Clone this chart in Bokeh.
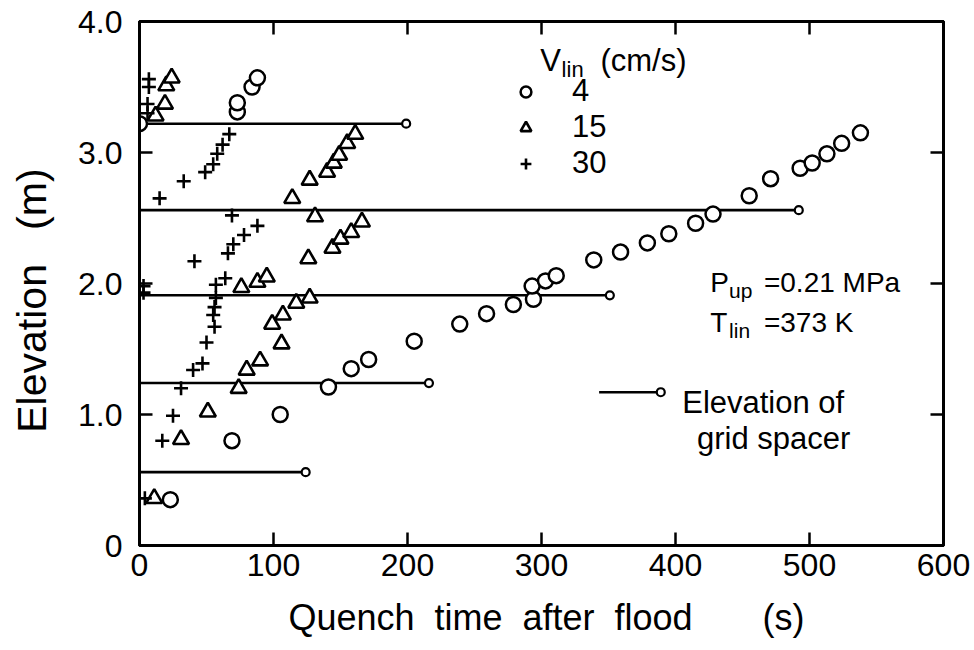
from bokeh.plotting import figure
from bokeh.models import (ColumnDataSource, FixedTicker, LinearAxis, Range1d, Legend,
                          LegendItem, Label, CustomLabelingPolicy)
from bokeh.embed import file_html
from bokeh.resources import INLINE

# ---------------- data ----------------
# V_lin = 4 cm/s  (circles)
t_v4 = [23, 69, 105, 141, 158, 171, 205, 239, 259, 279, 294, 293, 303, 311, 339, 359,
        379, 395, 415, 428, 455, 471, 493, 502, 513, 524, 538, 0, 73, 73, 84, 88]
z_v4 = [0.35, 0.80, 1.00, 1.21, 1.35, 1.42, 1.56, 1.69, 1.77, 1.84, 1.88, 1.98, 2.02,
        2.06, 2.18, 2.24, 2.31, 2.38, 2.46, 2.53, 2.67, 2.80, 2.88, 2.92, 2.99, 3.07,
        3.15, 3.22, 3.31, 3.38, 3.50, 3.57]

# V_lin = 15 cm/s (triangles)
t_v15 = [11, 31, 51, 74, 80, 90, 106, 99, 107, 117, 127, 76, 88, 95, 126, 144, 150,
         158, 166, 131, 114, 127, 140, 145, 149, 155, 161, 12, 19, 20, 24]
z_v15 = [0.36, 0.81, 1.02, 1.20, 1.34, 1.41, 1.54, 1.69, 1.76, 1.85, 1.89, 1.97, 2.01,
         2.05, 2.19, 2.27, 2.34, 2.39, 2.47, 2.51, 2.65, 2.79, 2.85, 2.92, 2.98, 3.07,
         3.14, 3.28, 3.37, 3.51, 3.57]

# V_lin = 30 cm/s (crosses)
t_v30 = [4, 17, 25, 31, 40, 47, 50, 56, 55, 56, 57, 3, 3, 57, 64, 41, 66, 70, 78, 88,
         69, 15, 33, 49, 55, 58, 62, 67, 6, 6, 7, 7]
z_v30 = [0.36, 0.80, 0.99, 1.20, 1.34, 1.39, 1.55, 1.67, 1.76, 1.82, 1.89, 1.93, 1.98,
         1.99, 2.04, 2.17, 2.23, 2.30, 2.37, 2.44, 2.52, 2.65, 2.78, 2.85, 2.91, 2.99,
         3.06, 3.14, 3.30, 3.37, 3.50, 3.56]

# grid spacer elevations and the time the line extends to
spacer_z = [0.56, 1.24, 1.91, 2.56, 3.22]
spacer_t = [124, 216, 351, 492, 199]

legend_labels = ["4", "15", "30"]
x_ticks = [0, 100, 200, 300, 400, 500, 600]
y_ticks = [0, 1, 2, 3, 4]
y_tick_labels = ["0", "1.0", "2.0", "3.0", "4.0"]

FONT = "Liberation Sans"

# ---------------- figure ----------------
p = figure(width=974, height=650, x_range=Range1d(0, 600), y_range=Range1d(0, 4),
           output_backend="svg", toolbar_location=None,
           min_border_left=139, min_border_right=31, min_border_top=21, min_border_bottom=105)
p.xgrid.visible = False
p.ygrid.visible = False
p.outline_line_color = "black"
p.outline_line_width = 3
p.outline_line_alpha = 1.0
p.background_fill_color = "white"
p.border_fill_color = "white"

xa = p.xaxis[0]
ya = p.yaxis[0]
xa.ticker = FixedTicker(ticks=x_ticks)
ya.ticker = FixedTicker(ticks=y_ticks)
ya.major_label_overrides = {v: s for v, s in zip(y_ticks, y_tick_labels)}
xa.major_label_overrides = {v: str(v) for v in x_ticks}
for ax in (xa, ya):
    ax.axis_line_width = 3
    ax.axis_line_color = "black"
    ax.major_tick_in = 13
    ax.major_tick_out = 0
    ax.major_tick_line_width = 2.5
    ax.minor_tick_in = 0
    ax.minor_tick_out = 0
    ax.major_label_text_font = FONT
    ax.major_label_text_font_size = "32px"
    ax.major_label_text_color = "black"
    ax.axis_label_text_font = FONT
    ax.axis_label_text_font_style = "normal"
    ax.axis_label_text_color = "black"
xa.major_label_standoff = 8
ya.major_label_standoff = 17
xa.axis_label = "\u00a0Quench\u00a0\u00a0time\u00a0\u00a0after\u00a0\u00a0flood\u00a0\u00a0\u00a0\u00a0\u00a0\u00a0\u00a0(s)"
xa.axis_label_text_font_size = "36px"
xa.axis_label_standoff = 18
ya.axis_label = "Elevation\u00a0\u00a0\u00a0(m)\u00a0\u00a0\u00a0"
ya.axis_label_text_font_size = "41px"
ya.axis_label_standoff = 20

top = LinearAxis(ticker=FixedTicker(ticks=x_ticks),
                 major_label_policy=CustomLabelingPolicy(code="return new Set()"))
right = LinearAxis(ticker=FixedTicker(ticks=y_ticks),
                   major_label_policy=CustomLabelingPolicy(code="return new Set()"))
for ax in (top, right):
    ax.axis_line_width = 3
    ax.major_tick_in = 13
    ax.major_tick_out = 0
    ax.major_tick_line_width = 2.5
    ax.minor_tick_in = 0
    ax.minor_tick_out = 0
    ax.major_label_standoff = 0
p.add_layout(top, "above")
p.add_layout(right, "right")

# ---------------- grid spacer lines ----------------
sp = ColumnDataSource(dict(t=spacer_t, z=spacer_z))
p.segment(x0=0, y0="z", x1="t", y1="z", source=sp, line_color="black", line_width=2.6)
p.scatter("t", "z", source=sp, marker="circle", size=8, fill_color="white",
          line_color="black", line_width=2.2)

# ---------------- data markers ----------------
r4 = p.scatter("t", "z", source=ColumnDataSource(dict(t=t_v4, z=z_v4)), marker="circle",
               size=15, fill_color="white", line_color="black", line_width=2.5)
r15 = p.scatter("t", "z", source=ColumnDataSource(dict(t=t_v15, z=z_v15)), marker="triangle",
                size=16, fill_color="white", line_color="black", line_width=2.6)
r30 = p.scatter("t", "z", source=ColumnDataSource(dict(t=t_v30, z=z_v30)), marker="cross",
                size=14, line_color="black", line_width=2.6)

leg = Legend(items=[LegendItem(label=legend_labels[0], renderers=[r4]),
                    LegendItem(label=legend_labels[1], renderers=[r15]),
                    LegendItem(label=legend_labels[2], renderers=[r30])],
             location=(373, 364), orientation="vertical", border_line_color=None,
             background_fill_alpha=0, padding=0, margin=0, spacing=0,
             glyph_width=27, glyph_height=27, label_standoff=33, label_height=26,
             label_text_font=FONT, label_text_font_size="31px", label_text_color="black")
p.add_layout(leg)

# ---------------- annotation texts ----------------
def lab(x, y, text, size):
    p.add_layout(Label(x=x, y=y, text=text, text_font=FONT, text_font_size=f"{size}px",
                       text_baseline="alphabetic", text_align="left", text_color="black"))

# legend title  V_lin (cm/s)
lab(299, 3.70, "V", 31)
lab(315, 3.63, "lin", 22)
lab(344, 3.70, "(cm/s)", 31)

# conditions
lab(426, 2.01, "P", 28)
lab(440, 1.95, "up", 21)
lab(466, 2.01, "=0.21 MPa", 28)
lab(426, 1.70, "T", 28)
lab(440, 1.64, "lin", 21)
lab(466, 1.70, "=373 K", 28)

# grid spacer key
KEY_X0, KEY_X1, KEY_Y = 343, 389, 1.17
p.segment(x0=KEY_X0, y0=KEY_Y, x1=KEY_X1, y1=KEY_Y, line_color="black", line_width=2.6)
p.scatter(x=[KEY_X1], y=[KEY_Y], marker="circle", size=8, fill_color="white",
          line_color="black", line_width=2.2)
lab(405, 1.09, "Elevation of", 31)
lab(416, 0.82, "grid spacer", 31)

open("out.html", "w").write(file_html(p, INLINE))
